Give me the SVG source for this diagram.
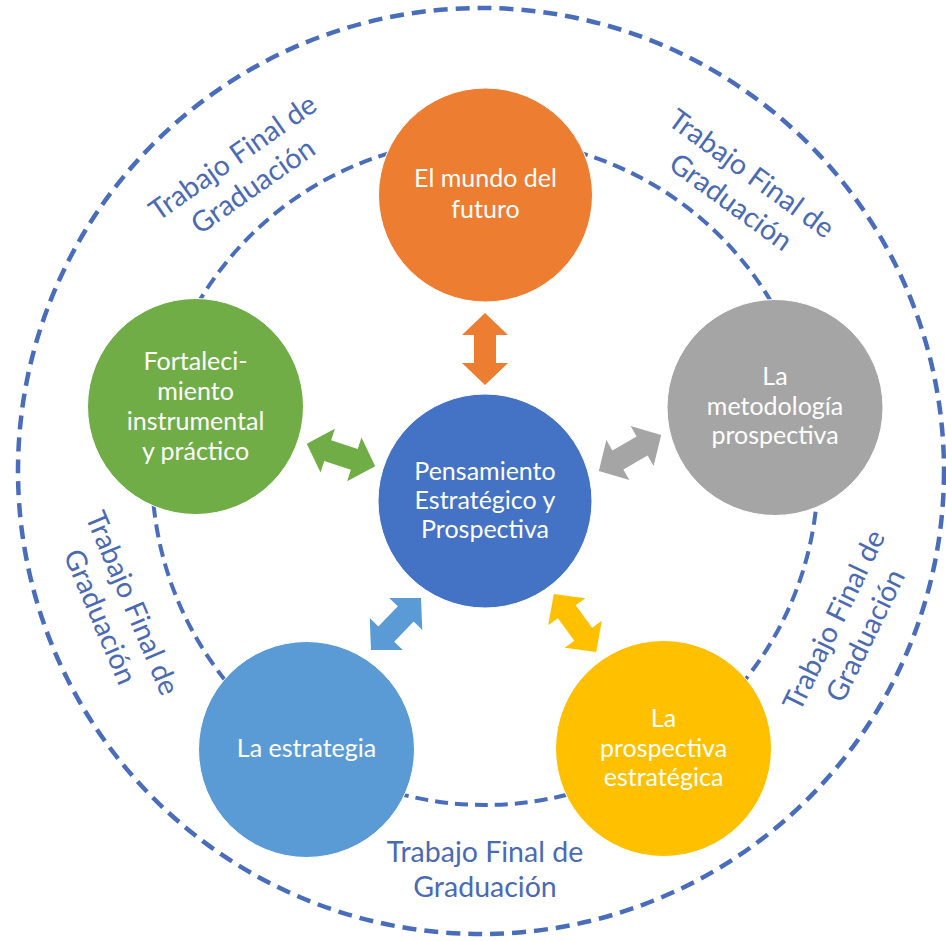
<svg xmlns="http://www.w3.org/2000/svg" xmlns:xlink="http://www.w3.org/1999/xlink" width="946" height="941" viewBox="0 0 946 941">
<style>
.ring{fill:none;stroke:#4a6dbb;stroke-width:4.5;stroke-dasharray:14 8}
.ring2{fill:none;stroke:#4a6dbb;stroke-width:4;stroke-dasharray:13 7}
.node{stroke:#ffffff;stroke-width:1}
.nt{font-family:Lato,"Open Sans","Liberation Sans",sans-serif;font-size:25px;fill:#ffffff;text-anchor:middle}
.lab{font-family:Lato,"Open Sans","Liberation Sans",sans-serif;font-size:28.5px;fill:#4a6ab4;text-anchor:middle}
</style>
<defs>
<path id="arr" d="M-36 0 L-14 -23 L-14 -11 L14 -11 L14 -23 L36 0 L14 23 L14 11 L-14 11 L-14 23 Z"/>
</defs>
<rect width="946" height="941" fill="#ffffff"/>
<g id="rings">
<circle class="ring" cx="481" cy="471" r="463"/>
<circle class="ring2" cx="485" cy="472" r="333"/>
</g>
<g id="labels">
<text class="lab" transform="translate(485,870)"><tspan x="0" y="-8">Trabajo Final de</tspan><tspan x="0" y="27">Graduación</tspan></text>
<text class="lab" transform="translate(243,172) rotate(-35)"><tspan x="0" y="-8">Trabajo Final de</tspan><tspan x="0" y="27">Graduación</tspan></text>
<text class="lab" transform="translate(741,188) rotate(36)"><tspan x="0" y="-8">Trabajo Final de</tspan><tspan x="0" y="27">Graduación</tspan></text>
<text class="lab" transform="translate(116,610) rotate(67)"><tspan x="0" y="-8">Trabajo Final de</tspan><tspan x="0" y="27">Graduación</tspan></text>
<text class="lab" transform="translate(850,628) rotate(-64)"><tspan x="0" y="-8">Trabajo Final de</tspan><tspan x="0" y="27">Graduación</tspan></text>
</g>
<g id="connectors">
<use xlink:href="#arr" href="#arr" fill="#ed7d31" transform="translate(485,349) rotate(90)"/>
<use xlink:href="#arr" href="#arr" fill="#70ad47" transform="translate(341,455) rotate(18.2)"/>
<use xlink:href="#arr" href="#arr" fill="#a5a5a5" transform="translate(630,453) rotate(-30)"/>
<use xlink:href="#arr" href="#arr" fill="#5b9bd5" transform="translate(396,624) rotate(-46)"/>
<use xlink:href="#arr" href="#arr" fill="#ffc000" transform="translate(575,623) rotate(54)"/>
</g>
<g id="n-center">
<circle class="node" cx="485" cy="501" r="107" fill="#4472c4"/>
<text class="nt"><tspan x="485" y="480">Pensamiento</tspan><tspan x="485" y="509">Estratégico y</tspan><tspan x="485" y="538">Prospectiva</tspan></text>
</g>
<g id="n-futuro">
<circle class="node" cx="485.5" cy="195" r="107" fill="#ed7d31"/>
<text class="nt"><tspan x="485.5" y="187">El mundo del</tspan><tspan x="485.5" y="218">futuro</tspan></text>
</g>
<g id="n-fortalecimiento">
<circle class="node" cx="195.5" cy="406.5" r="108" fill="#70ad47"/>
<text class="nt"><tspan x="195.5" y="370">Fortaleci-</tspan><tspan x="195.5" y="400">miento</tspan><tspan x="195.5" y="430">instrumental</tspan><tspan x="195.5" y="460">y práctico</tspan></text>
</g>
<g id="n-metodologia">
<circle class="node" cx="775" cy="407.5" r="108" fill="#a5a5a5"/>
<text class="nt"><tspan x="775" y="385">La</tspan><tspan x="775" y="415">metodología</tspan><tspan x="775" y="444">prospectiva</tspan></text>
</g>
<g id="n-estrategia">
<circle class="node" cx="306.5" cy="749.5" r="108" fill="#5b9bd5"/>
<text class="nt"><tspan x="306.5" y="757">La estrategia</tspan></text>
</g>
<g id="n-prospectiva">
<circle class="node" cx="663.5" cy="748.5" r="108" fill="#ffc000"/>
<text class="nt"><tspan x="663.5" y="727">La</tspan><tspan x="663.5" y="757">prospectiva</tspan><tspan x="663.5" y="786">estratégica</tspan></text>
</g>
</svg>
